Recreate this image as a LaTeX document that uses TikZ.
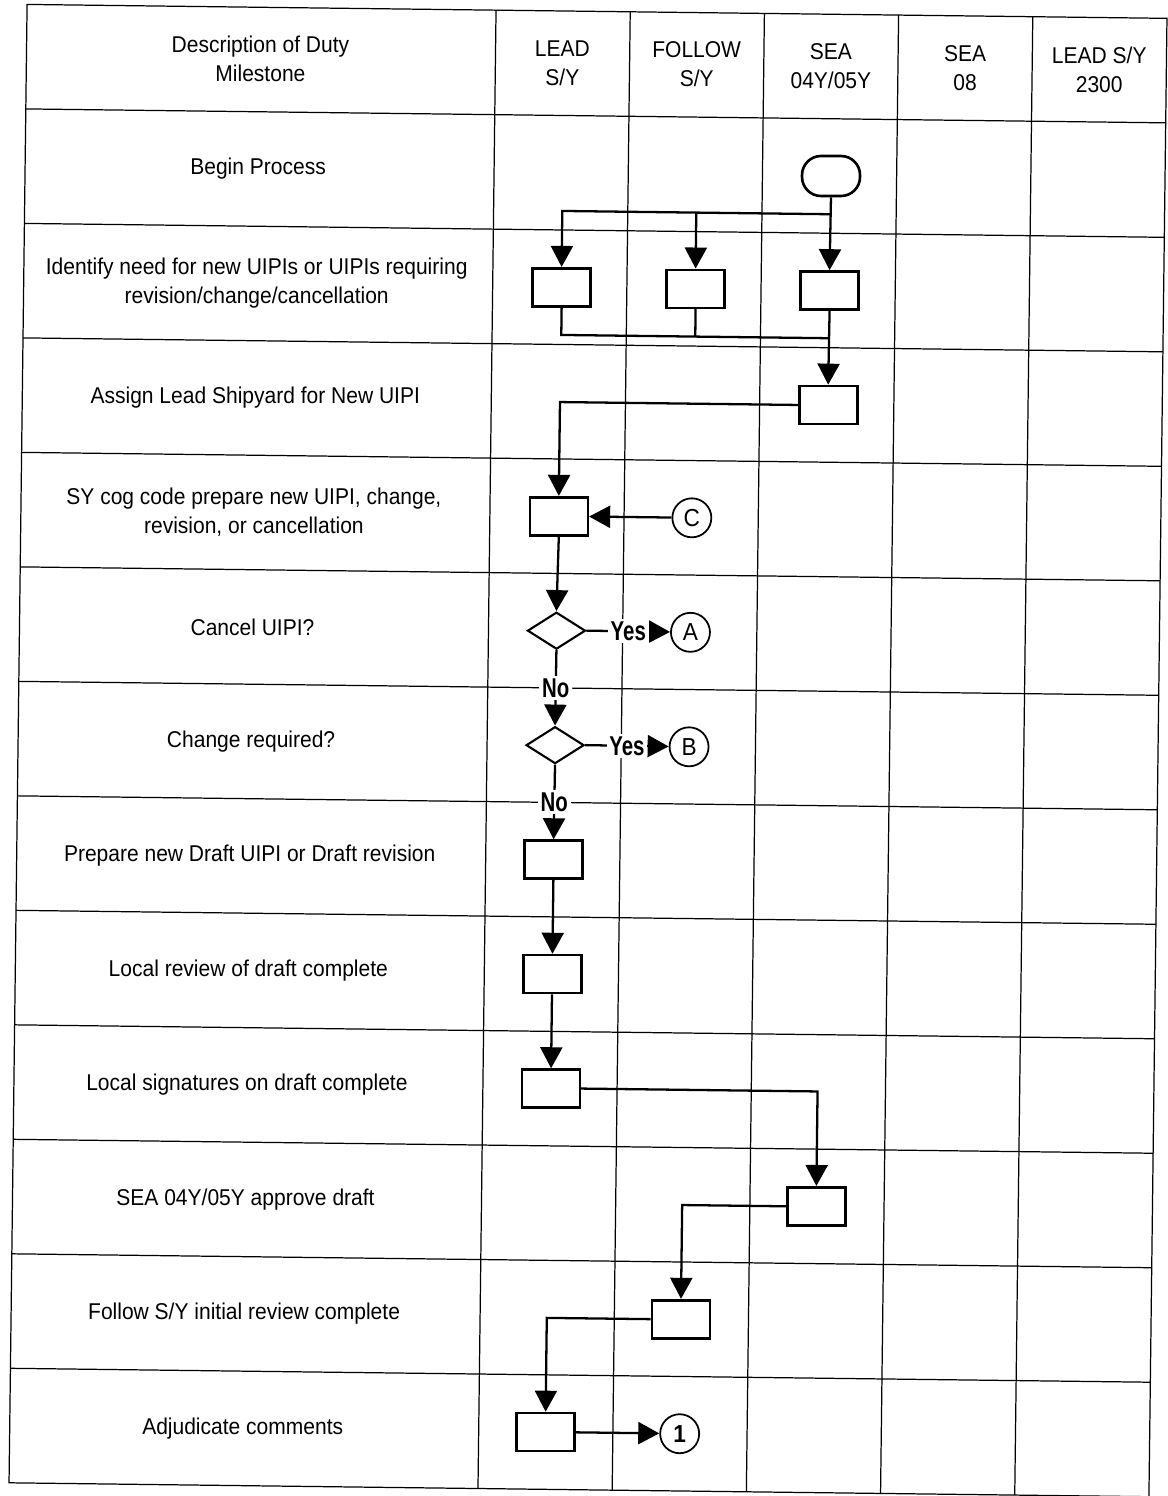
\documentclass[tikz,border=0pt]{standalone}
\usepackage{fontspec}
\setmainfont{Liberation Sans}[FakeStretch=0.92]
\newfontfamily\answerfont{Liberation Sans}[FakeStretch=0.75]
\usetikzlibrary{positioning, calc, shapes.geometric, arrows.meta}

\begin{document}
\begin{tikzpicture}[
    x=0.02cm, y=-0.02cm,
    >={Triangle[length=0.42cm, width=0.44cm]},
    grid/.style={line width=0.7pt},
    txt/.style={align=center, font=\fontsize{13}{16.5}\selectfont},
    term/.style={rectangle, rounded corners=0.38cm, draw, line width=1.5pt, minimum width=1.16cm, minimum height=0.8cm},
    task/.style={rectangle, draw, line width=1.5pt, minimum width=1.16cm, minimum height=0.76cm, inner sep=0pt},
    decide/.style={diamond, draw, line width=1.2pt, minimum width=1.16cm, minimum height=0.74cm, inner sep=0pt},
    conn/.style={circle, draw, line width=1pt, minimum size=0.78cm, inner sep=0pt, font=\fontsize{14}{14}\selectfont},
    wire/.style={line width=1.3pt},
    flow/.style={wire, ->},
    answer/.style={fill=white, inner sep=1.5pt, font=\answerfont\bfseries\fontsize{15.5}{15.5}\selectfont}
]
\useasboundingbox (0,0) rectangle (1167,1496);

% the scanned sheet sits slightly askew
\begin{scope}[rotate around={-0.7:(480,750)}]

    % --- table ---
    \draw[grid] (18,10) rectangle (1158,1488.5);
    \foreach \x in {487, 621.2, 755.4, 889.6, 1023.8}
        \draw[grid] (\x,10) -- (\x,1488.5);
    \foreach \i in {1,...,12}
        \draw[grid] (18,{114.5*\i}) -- (1158,{114.5*\i});

    % --- header ---
    \node[txt] (hdesc)   at (252,62)    {Description of Duty\\Milestone};
    \node[txt] (hlead)   at (554,62)    {LEAD\\S/Y};
    \node[txt] (hfollow) at (688.3,62)  {FOLLOW\\S/Y};
    \node[txt] (hsea)    at (822.5,62)  {SEA\\04Y/05Y};
    \node[txt] (hsea8)   at (956.7,62)  {SEA\\08};
    \node[txt] (hlsy)    at (1090.9,62) {LEAD S/Y\\2300};

    % --- milestones ---
    \node[txt] (m1)  at (251,171.75)  {Begin Process};
    \node[txt] (m2)  at (251,286.25)  {Identify need for new UIPIs or UIPIs requiring\\revision/change/cancellation};
    \node[txt] (m3)  at (251,400.75)  {Assign Lead Shipyard for New UIPI};
    \node[txt] (m4)  at (251,515.25)  {SY cog code prepare new UIPI, change,\\revision, or cancellation};
    \node[txt] (m5)  at (251,629.75)  {Cancel UIPI?};
    \node[txt] (m6)  at (251,744.25)  {Change required?};
    \node[txt] (m7)  at (251,858.75)  {Prepare new Draft UIPI or Draft revision};
    \node[txt] (m8)  at (251,973.25)  {Local review of draft complete};
    \node[txt] (m9)  at (251,1087.75) {Local signatures on draft complete};
    \node[txt] (m10) at (251,1202.25) {SEA 04Y/05Y approve draft};
    \node[txt] (m11) at (251,1316.75) {Follow S/Y initial review complete};
    \node[txt] (m12) at (251,1431.25) {Adjudicate comments};

    % --- flow nodes ---
    \node[term] (start) at (824,171.75) {};

    \node[task] (idlead)   at (556,286.25) {};
    \node[task] (idfollow) at (690,286.25) {};
    \node[task] (idsea)    at (824,286.25) {};

    \node[task] (assign) at (824,400.75) {};

    \node[task] (prepare) at (556,515.25) {};
    \node[conn] (cC) at (689,515.25) {C};

    \node[decide] (qcancel) at (555,629.75) {};
    \node[conn] (cA) at (689,629.75) {A};

    \node[decide] (qchange) at (555,744.25) {};
    \node[conn] (cB) at (689,744.25) {B};

    \node[task] (draft)   at (555,858.75)  {};
    \node[task] (review)  at (555,973.25)  {};
    \node[task] (sign)    at (555,1087.75) {};
    \node[task] (approve) at (822,1202.25) {};
    \node[task] (frev)    at (688,1316.75) {};
    \node[task] (adj)     at (554,1431.25) {};
    \node[conn, font=\bfseries\fontsize{14}{14}\selectfont] (c1) at (688,1431.25) {1};

    % --- connectors ---
    \coordinate (fork) at (824,210);
    \coordinate (join) at (824,334);

    \draw[flow] (start.south) -- (idsea.north);
    \draw[flow] (fork) -| (idlead.north);
    \draw[flow] (idfollow.north |- fork) -- (idfollow.north);

    \draw[wire] (idlead.south) |- (join);
    \draw[wire] (idfollow.south) -- (idfollow.south |- join);
    \draw[flow] (idsea.south) -- (assign.north);

    \draw[flow] (assign.west) -| (prepare.north);
    \draw[flow] (cC) -- (prepare);
    \draw[flow] (prepare.south) -- (qcancel.north);

    \draw[flow] (qcancel.east) -- node[answer] {Yes} (cA);
    \draw[flow] (qcancel.south) -- node[answer] {No} (qchange.north);
    \draw[flow] (qchange.east) -- node[answer] {Yes} (cB);
    \draw[flow] (qchange.south) -- node[answer] {No} (draft.north);

    \draw[flow] (draft) -- (review);
    \draw[flow] (review) -- (sign);
    \draw[flow] (sign.east) -| (approve.north);
    \draw[flow] (approve.west) -| (frev.north);
    \draw[flow] (frev.west) -| (adj.north);
    \draw[flow] (adj) -- (c1);
\end{scope}
\end{tikzpicture}
\end{document}
